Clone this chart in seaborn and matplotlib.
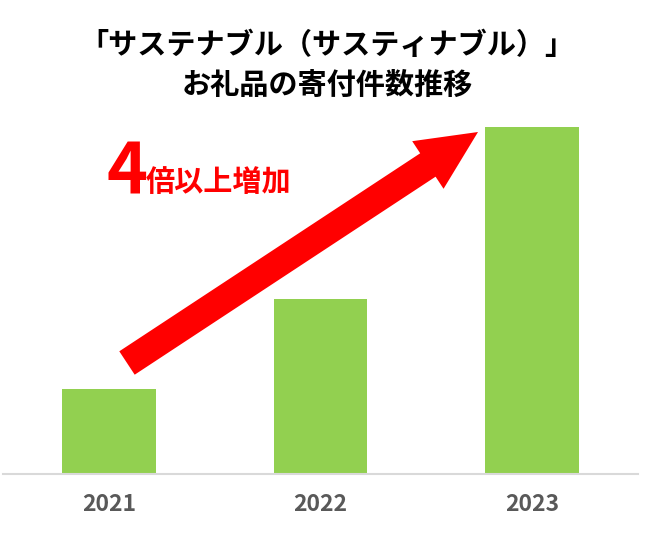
import matplotlib
matplotlib.use("Agg")
import matplotlib.pyplot as plt
import matplotlib.patches as mpatches
import seaborn as sns
import pandas as pd

years = ["2021", "2022", "2023"]
counts = [85, 175, 347]
title_lines = ["「サステナブル（サスティナブル）」", "お礼品の寄付件数推移"]
note_num = "4"
note_text = "倍以上増加"

sns.set_theme(style="white")
plt.rcParams["font.family"] = ["Noto Sans CJK JP", "DejaVu Sans"]

W, H = 650, 545
fig = plt.figure(figsize=(W / 100, H / 100), dpi=100)
fig.patch.set_facecolor("white")

ax_bottom_px = 474
ax_top_px = 127
ax = fig.add_axes([3 / W, (H - ax_bottom_px) / H, 635 / W, (ax_bottom_px - ax_top_px) / H])

df = pd.DataFrame({"year": years, "count": counts})
sns.barplot(data=df, x="year", y="count", color="#92D050", saturation=1,
            width=0.444, linewidth=0, ax=ax)
ax.set_xlim(-0.5, 2.5)
ax.set_ylim(0, max(counts))
ax.set_xlabel("")
ax.set_ylabel("")
ax.set_yticks([])
for s in ["left", "right", "top"]:
    ax.spines[s].set_visible(False)
ax.spines["bottom"].set_color("#d9d9d9")
ax.spines["bottom"].set_linewidth(1.5)
ax.tick_params(axis="x", length=0, pad=14, labelsize=16.5, labelcolor="#595959")
for lab in ax.get_xticklabels():
    lab.set_fontweight("bold")
ax.patch.set_alpha(0)

# Title
fig.text(327 / W, 1 - 45 / H, title_lines[0], ha="center", va="center",
         fontsize=21, fontweight="bold", color="black")
fig.text(327 / W, 1 - 85 / H, title_lines[1], ha="center", va="center",
         fontsize=21, fontweight="bold", color="black")

# Arrow (in inches, isotropic)
tr = fig.dpi_scale_trans
tail = (127 / 100, (H - 363) / 100)
tip = (478 / 100, (H - 132) / 100)
arrow = mpatches.FancyArrow(tail[0], tail[1], tip[0] - tail[0], tip[1] - tail[1],
                            width=0.28, head_width=0.57, head_length=0.60,
                            length_includes_head=True, transform=tr,
                            color="#FF0000", linewidth=0, zorder=5)
fig.patches.append(arrow)

# Annotation text
fig.text(107 / W, 1 - 193 / H, note_num, ha="left", va="baseline",
         fontsize=50, fontweight="bold", color="#FF0000")
fig.text(146 / W, 1 - 182 / H, note_text, ha="left", va="center",
         fontsize=21, fontweight="bold", color="#FF0000")

fig.savefig("out.png", dpi=100)
